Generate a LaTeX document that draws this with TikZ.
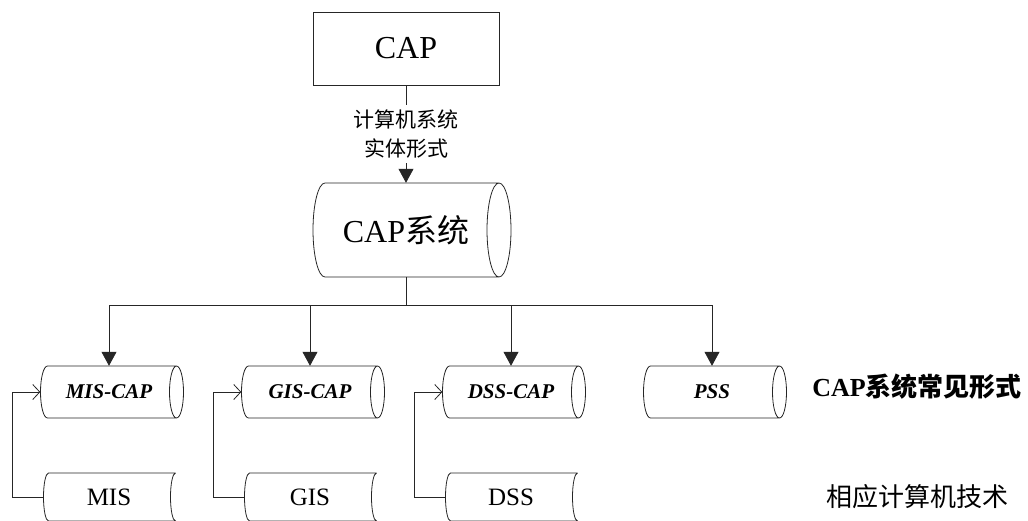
\documentclass[tikz,border=0pt]{standalone}
\usepackage{fontspec}
\setmainfont{Liberation Serif}
\newfontfamily\cjk{Noto Sans CJK SC}
\usetikzlibrary{arrows.meta}

% Horizontal cylinder around a node: #1 node, #2 half body width,
% #3 half height, #4 end radius, #5 horizontal offset of the body
\newcommand\cylshape[5]{%
  \draw[outline, shift={(#1.center)}]
    (#5+#2,-#3) -- (#5-#2,-#3)
    arc[start angle=90,end angle=270,x radius=#4pt,y radius=#3pt]
    -- (#5+#2,#3)
    arc[start angle=-90,end angle=270,x radius=#4pt,y radius=#3pt];}
% Stored-data shape: convex left end, concave right end
\newcommand\storeshape[5]{%
  \draw[outline, shift={(#1.center)}]
    (#5+#2,-#3) -- (#5-#2,-#3)
    arc[start angle=90,end angle=270,x radius=#4pt,y radius=#3pt]
    -- (#5+#2,#3)
    arc[start angle=270,end angle=90,x radius=#4pt,y radius=#3pt];}

\begin{document}
\begin{tikzpicture}[x=1pt,y=-1pt,
  outline/.style={line width=0.8pt, draw=black!85},
  conn/.style={line width=0.8pt, draw=black!85},
  fillarrow/.style={conn, -{Triangle[width=15pt,length=14pt]}},
  openarrow/.style={conn, -{Straight Barb[width=15pt,length=7pt]}},
  box/.style={draw=black!85, line width=0.8pt, minimum width=186pt, minimum height=73pt,
    inner sep=0pt, font=\fontsize{32}{38}\selectfont},
  sysnode/.style={minimum width=186pt, minimum height=94pt, inner sep=0pt,
    font=\fontsize{32}{38}\selectfont},
  formnode/.style={minimum width=137pt, minimum height=52pt, inner sep=0pt,
    font=\fontsize{21}{25}\selectfont\bfseries\itshape},
  technode/.style={minimum width=131pt, minimum height=48pt, inner sep=0pt,
    font=\fontsize{25}{30}\selectfont},
]
\useasboundingbox (0,0) rectangle (1028,520);
\clip (0,0) rectangle (1028,520);

% top: CAP and the CAP system
\node[box] (cap) at (406,48.5) {CAP};
\node[sysnode] (capsys) at (406,230) {CAP{\cjk 系统}};
\cylshape{capsys}{87}{47}{12}{6}

\draw[fillarrow] (cap) -- node[fill=white, inner xsep=2pt, inner ysep=5pt, align=center,
    font=\cjk\fontsize{21}{29}\selectfont] (via) {计算机系统\\实体形式} (capsys);

% common forms of CAP systems
\node[formnode] (miscap) at (109,392) {MIS-CAP};
\node[formnode] (giscap) at (310,392) {GIS-CAP};
\node[formnode] (dsscap) at (511,392) {DSS-CAP};
\node[formnode] (pss)    at (712,392) {PSS};
\cylshape{miscap}{64.5}{26}{7}{3}
\cylshape{giscap}{64.5}{26}{7}{3}
\cylshape{dsscap}{64.5}{26}{7}{3}
\cylshape{pss}{64.5}{26}{7}{3}

% tree from the CAP system to its forms
\coordinate (bar) at (406,305);
\draw[conn] (capsys) -- (bar);
\draw[fillarrow] (bar) -| (miscap);
\draw[fillarrow] (bar) -| (giscap);
\draw[fillarrow] (bar) -| (dsscap);
\draw[fillarrow] (bar) -| (pss);

% underlying computer technologies
\node[technode] (mis) at (109,497) {MIS};
\node[technode] (gis) at (310,497) {GIS};
\node[technode] (dss) at (511,497) {DSS};
\storeshape{mis}{63.5}{24}{5}{3}
\storeshape{gis}{63.5}{24}{5}{3}
\storeshape{dss}{63.5}{24}{5}{3}

\draw[openarrow] (mis.west) -- ++(-31,0) |- (miscap.west);
\draw[openarrow] (gis.west) -- ++(-31,0) |- (giscap.west);
\draw[openarrow] (dss.west) -- ++(-31,0) |- (dsscap.west);

% row captions
\node[font=\fontsize{26}{30}\selectfont\bfseries] (formlbl) at (917,387) {CAP{\cjk 系统常见形式}};
\node[font=\cjk\fontsize{26}{30}\selectfont] (techlbl) at (917,497) {相应计算机技术};
\end{tikzpicture}
\end{document}
